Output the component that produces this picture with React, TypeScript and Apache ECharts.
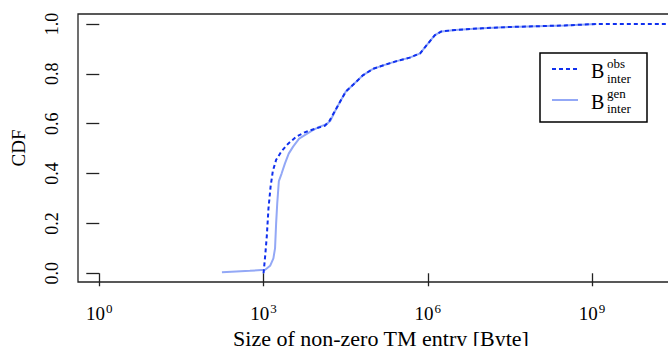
import React, { useEffect, useRef } from "react";
import * as echarts from "echarts";

// log10 of entry size (Byte) and CDF, observed
const obsLogSize = [3.0, 3.03, 3.06, 3.09, 3.13, 3.17, 3.23, 3.33, 3.45, 3.6, 3.75, 3.97, 4.12, 4.2, 4.34, 4.5, 4.64, 4.82, 5.0, 5.2, 5.4, 5.67, 5.86, 5.98, 6.13, 6.25, 6.5, 7.0, 7.5, 8.0, 8.5, 9.08, 10.8];
const obsCdf = [0.0, 0.07, 0.15, 0.26, 0.35, 0.41, 0.455, 0.49, 0.52, 0.548, 0.565, 0.582, 0.592, 0.61, 0.665, 0.728, 0.757, 0.795, 0.82, 0.835, 0.849, 0.865, 0.882, 0.915, 0.955, 0.97, 0.976, 0.983, 0.988, 0.991, 0.994, 1.0, 1.0];

// generated
const genLogSize = [2.24, 2.5, 2.75, 3.03, 3.12, 3.18, 3.21, 3.23, 3.25, 3.28, 3.33, 3.39, 3.46, 3.54, 3.65, 3.76, 3.9, 4.03, 4.15, 4.22, 4.34, 4.5, 4.64, 4.82, 5.0, 5.2, 5.4, 5.67, 5.86, 5.98, 6.13, 6.25, 6.5, 7.0, 7.5, 8.0, 8.5, 9.08];
const genCdf = [0.004, 0.007, 0.01, 0.014, 0.03, 0.06, 0.1, 0.2, 0.28, 0.37, 0.4, 0.44, 0.48, 0.508, 0.54, 0.555, 0.574, 0.588, 0.598, 0.612, 0.665, 0.728, 0.757, 0.795, 0.82, 0.835, 0.849, 0.865, 0.882, 0.915, 0.955, 0.97, 0.976, 0.983, 0.988, 0.991, 0.994, 1.0];

const xTickExponents = [0, 3, 6, 9];
const yTicks = [0, 0.2, 0.4, 0.6, 0.8, 1.0];

const SERIF = "Liberation Serif";
const OBS_COLOR = "#1030ee";
const GEN_COLOR = "#93a8f6";
const INK = "#222";

export default function App() {
  const ref = useRef<HTMLDivElement>(null);
  useEffect(() => {
    if (!ref.current) return;
    const chart = echarts.init(ref.current, null, { renderer: "svg" });
    const obs = obsLogSize.map((x, i) => [x, obsCdf[i]]);
    const gen = genLogSize.map((x, i) => [x, genCdf[i]]);
    const txt = (text: string, x: number, y: number, size: number) => ({
      type: "text",
      x,
      y,
      z: 11,
      style: {
        text,
        fill: "#000",
        fontFamily: SERIF,
        fontSize: size,
        textAlign: "left",
        textVerticalAlign: "middle",
        align: "left",
        verticalAlign: "middle",
      },
    });
    chart.setOption({
      animation: false,
      textStyle: { fontFamily: SERIF },
      grid: {
        left: 78,
        top: 14,
        right: 16,
        bottom: 64,
        containLabel: false,
        outerBoundsMode: "none",
        show: true,
        borderColor: INK,
        borderWidth: 1.3,
        backgroundColor: "transparent",
      },
      xAxis: {
        type: "value",
        min: -0.389,
        max: 10.68,
        name: "Size of non-zero TM entry [Byte]",
        nameLocation: "middle",
        nameGap: 44,
        nameTextStyle: { fontFamily: SERIF, fontSize: 22, color: "#000" },
        axisLine: { show: false },
        splitLine: { show: false },
        axisTick: {
          show: true,
          customValues: xTickExponents,
          length: 13,
          lineStyle: { color: INK, width: 1.3 },
        },
        axisLabel: {
          customValues: xTickExponents,
          margin: 19,
          fontFamily: SERIF,
          formatter: (v: number) => `{b|10}{s|${v}}`,
          rich: {
            b: { fontFamily: SERIF, fontSize: 19, lineHeight: 24, color: "#000" },
            s: { fontFamily: SERIF, fontSize: 13, color: "#000", padding: [0, 0, 9, 1] },
          },
        },
      },
      yAxis: {
        type: "value",
        min: -0.035,
        max: 1.04,
        name: "CDF",
        nameLocation: "middle",
        nameRotate: 90,
        nameGap: 50,
        nameTextStyle: { fontFamily: SERIF, fontSize: 19, color: "#000" },
        axisLine: { show: false },
        splitLine: { show: false },
        axisTick: {
          show: true,
          customValues: yTicks,
          length: 13,
          lineStyle: { color: INK, width: 1.3 },
        },
        axisLabel: {
          customValues: yTicks,
          rotate: 90,
          margin: 17,
          fontFamily: SERIF,
          fontSize: 18,
          color: "#000",
          formatter: (v: number) => v.toFixed(1),
        },
      },
      series: [
        {
          name: "gen",
          type: "line",
          data: gen,
          symbol: "none",
          lineStyle: { color: GEN_COLOR, width: 2 },
          z: 2,
        },
        {
          name: "obs",
          type: "line",
          data: obs,
          symbol: "none",
          lineStyle: { color: OBS_COLOR, width: 2, type: [4, 3] },
          z: 3,
        },
      ],
      graphic: [
        {
          type: "rect",
          z: 10,
          shape: { x: 540, y: 53, width: 107, height: 69 },
          style: { fill: "#fff", stroke: "#000", lineWidth: 1.5 },
        },
        {
          type: "line",
          z: 11,
          shape: { x1: 552, y1: 69, x2: 578, y2: 69 },
          style: { stroke: OBS_COLOR, lineWidth: 2, lineDash: [4, 3] },
        },
        {
          type: "line",
          z: 11,
          shape: { x1: 552, y1: 100, x2: 578, y2: 100 },
          style: { stroke: GEN_COLOR, lineWidth: 2 },
        },
        txt("B", 591, 71, 20),
        txt("obs", 607, 63, 13),
        txt("inter", 607, 78, 13),
        txt("B", 591, 102, 20),
        txt("gen", 607, 93, 13),
        txt("inter", 607, 108, 13),
      ],
    });
    return () => chart.dispose();
  }, []);
  return (
    <div
      style={{
        position: "fixed",
        left: 0,
        top: 0,
        width: 668,
        height: 346,
        overflow: "hidden",
        background: "#fff",
      }}
    >
      <div ref={ref} style={{ width: 700, height: 346 }} />
    </div>
  );
}
